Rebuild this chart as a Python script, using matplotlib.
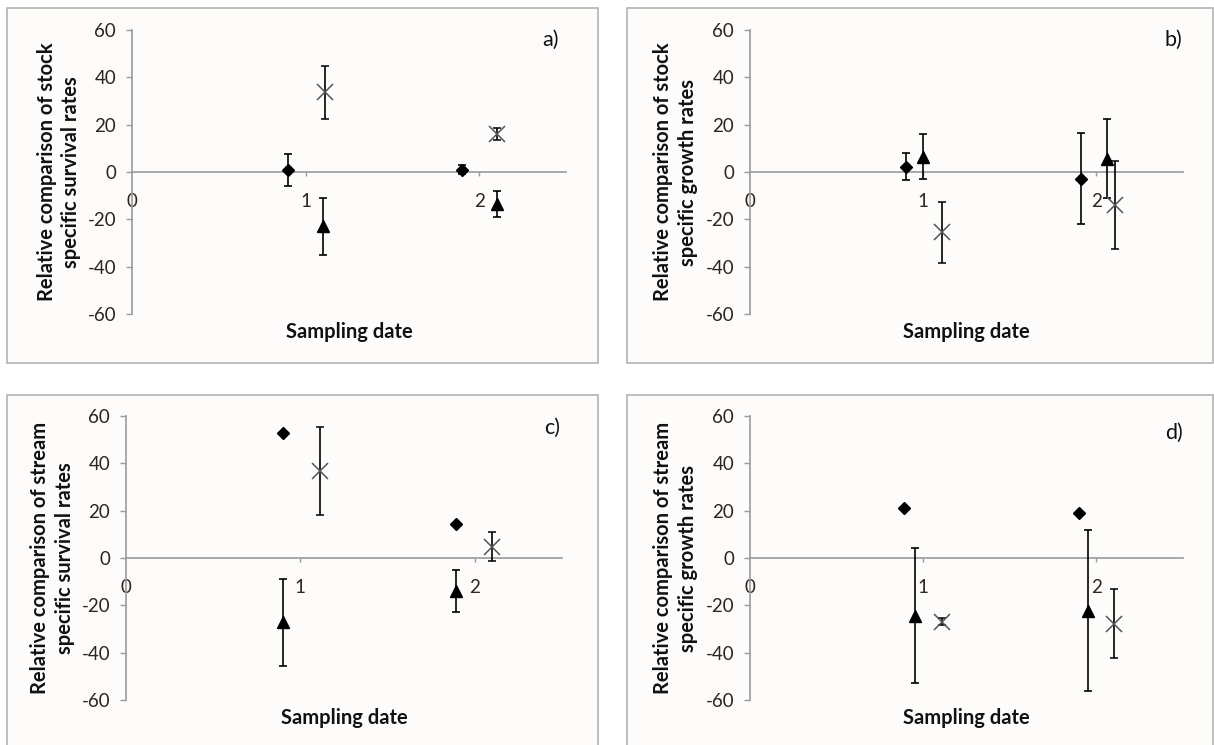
import matplotlib
matplotlib.use("Agg")
import matplotlib.pyplot as plt
from matplotlib.patches import Rectangle

plt.rcParams['font.family'] = ['Lato', 'DejaVu Sans']

W, H = 1214, 745

# ---------------- data ----------------
panel_tags = ["a)", "b)", "c)", "d)"]
ylabels = [
    "Relative comparison of stock\nspecific survival rates",
    "Relative comparison of stock\nspecific growth rates",
    "Relative comparison of stream\nspecific survival rates",
    "Relative comparison of stream\nspecific growth rates",
]
xlabel_text = "Sampling date"
xtick_vals = [0, 1, 2]
ytick_vals = [-60, -40, -20, 0, 20, 40, 60]

# diamonds (x position, mean, error)
dia_x = [[0.90, 1.90], [0.90, 1.91], [0.90, 1.89], [0.89, 1.90]]
dia_y = [[0.8, 1.0], [2.2, -2.8], [53.0, 14.5], [21.0, 19.0]]
dia_e = [[6.8, 2.0], [5.7, 19.1], [0.0, 0.0], [0.0, 0.0]]

# triangles
tri_x = [[1.10, 2.10], [1.00, 2.06], [0.90, 1.89], [0.955, 1.95]]
tri_y = [[-23.0, -13.5], [6.5, 5.6], [-27.2, -14.0], [-24.4, -22.2]]
tri_e = [[12.0, 5.5], [9.5, 16.7], [18.3, 9.0], [28.6, 34.0]]

# crosses
crs_x = [[1.11, 2.10], [1.11, 2.11], [1.11, 2.10], [1.11, 2.10]]
crs_y = [[33.6, 16.0], [-25.5, -14.0], [36.7, 4.8], [-27.0, -27.7]]
crs_e = [[11.0, 2.5], [13.0, 18.6], [18.5, 6.2], [1.5, 14.7]]

# ---------------- layout (pixels) ----------------
axes_px = [(132, 566, 30, 314), (750, 1183, 30, 314),
           (126, 562, 416, 700), (750, 1183, 416, 700)]
frames_px = [(7, 8, 598, 363), (627, 8, 1213, 363),
             (7, 395, 598, 760), (627, 395, 1213, 760)]
tag_pos = [(0.965, 0.965), (0.977, 0.965), (0.977, 0.958), (0.98, 0.94)]
ylab_x = [-0.168, -0.172, -0.168, -0.172]

fig = plt.figure(figsize=(W / 100, H / 100), dpi=100)
fig.patch.set_facecolor("white")

for (l, t, r, b) in frames_px:
    rect = Rectangle((l / W, 1 - b / H), (r - l) / W, (b - t) / H,
                     transform=fig.transFigure, facecolor="#fdfcfa",
                     edgecolor="#b3b3b3", linewidth=1.2, zorder=-5)
    fig.add_artist(rect)

grey = "#9a9a9a"
txt = "#2b2523"

for i in range(4):
    x0, x1, yt, yb = axes_px[i]
    ax = fig.add_axes([x0 / W, 1 - yb / H, (x1 - x0) / W, (yb - yt) / H])
    ax.patch.set_alpha(0)
    ax.set_xlim(0, 2.5)
    ax.set_ylim(-60, 60)
    for s in ("top", "right"):
        ax.spines[s].set_visible(False)
    ax.spines["bottom"].set_position(("data", 0))
    for s in ("left", "bottom"):
        ax.spines[s].set_color(grey)
        ax.spines[s].set_linewidth(1.2)
    ax.set_yticks(ytick_vals)
    ax.set_yticklabels([str(v) for v in ytick_vals])
    ax.set_xticks(xtick_vals)
    ax.set_xticklabels([str(v) for v in xtick_vals])
    ax.tick_params(axis="y", direction="out", length=4.5, width=1, color=grey,
                   labelsize=13.5, labelcolor=txt, pad=7)
    ax.tick_params(axis="x", direction="out", length=3, width=1, color=grey,
                   labelsize=13.5, labelcolor=txt, pad=12)
    ax.xaxis.get_major_ticks()[0].tick1line.set_visible(False)

    ax.set_ylabel(ylabels[i], fontsize=14.5, fontweight="bold", color="#111111",
                  linespacing=1.3)
    ax.yaxis.label.set_va("center")
    ax.yaxis.set_label_coords(ylab_x[i], 0.5)
    ax.set_xlabel(xlabel_text, fontsize=14.5, fontweight="bold", color="#111111")
    ax.xaxis.label.set_va("center")
    ax.xaxis.set_label_coords(0.5, -0.063)

    ax.text(tag_pos[i][0], tag_pos[i][1], panel_tags[i], transform=ax.transAxes,
            ha="center", va="center", fontsize=15.5, color="#111111")

    ekw = dict(ecolor="black", elinewidth=1.2, capsize=3, capthick=1.2,
               linestyle="none", clip_on=False)
    de = dia_e[i] if any(dia_e[i]) else None
    ax.errorbar(dia_x[i], dia_y[i], yerr=de, fmt="D", color="black",
                markersize=6.5, zorder=4, **ekw)
    ax.errorbar(tri_x[i], tri_y[i], yerr=tri_e[i], fmt="^", color="black",
                markersize=9, zorder=4, **ekw)
    ax.errorbar(crs_x[i], crs_y[i], yerr=crs_e[i], fmt="x", color="#555555",
                mec="#555555", markersize=12, markeredgewidth=1.1, zorder=4, **ekw)

fig.savefig("out.png", dpi=100, facecolor="white")
